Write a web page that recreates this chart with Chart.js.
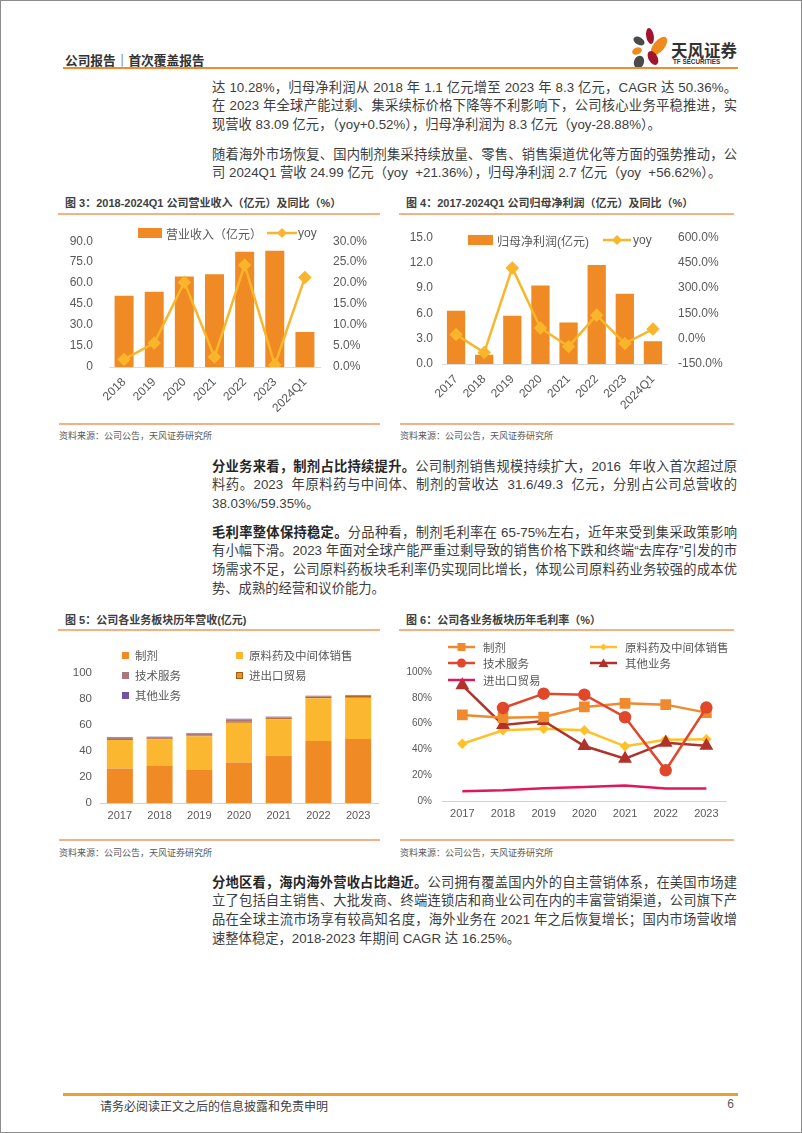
<!DOCTYPE html>
<html lang="zh-CN">
<head>
<meta charset="utf-8">
<title>公司报告 | 首次覆盖报告</title>
<script src="https://cdn.jsdelivr.net/npm/chart.js@4.4.1/dist/chart.umd.min.js"></script>
<style>
  body { margin:0; width:802px; height:1133px; position:relative; background:#fff; overflow:hidden;
         font-family:"Liberation Sans","Noto Sans CJK SC",sans-serif; color:#3a3a3a; }
  .frame { position:absolute; left:0; top:0; width:800px; height:1131px; border:1px solid #8c8c8c; }
  .abs { position:absolute; white-space:nowrap; }
  .hline { position:absolute; height:2px; }
  .para { position:absolute; left:212px; width:525px; font-size:13.3px; line-height:18.7px; color:#3d3d3d; }
  .para div { text-align:justify; text-align-last:justify; }
  .para div.last { text-align-last:left; }
  .para b { color:#262626; }
  .figt { position:absolute; font-size:11px; font-weight:bold; color:#404040; white-space:nowrap; }
  .src { position:absolute; font-size:9px; color:#595959; white-space:nowrap; }
  .box { position:absolute; }
  .lg { position:absolute; height:14px; display:flex; align-items:center; font-size:11.5px; color:#595959; white-space:nowrap; }
  .lg svg { display:block; }
</style>
</head>
<body>
<div class="frame"></div>

<!-- 页眉 -->
<div class="abs" style="left:65px;top:50px;font-size:12.7px;font-weight:bold;color:#333;">公司报告｜首次覆盖报告</div>
<svg class="abs" style="left:0;top:0" width="802" height="70">
  <ellipse cx="650" cy="36" rx="3.8" ry="8" fill="#A3152E" transform="rotate(-10 650 36)"/>
  <ellipse cx="639" cy="41" rx="6" ry="3.8" fill="#4a4a4a" transform="rotate(30 639 41)"/>
  <ellipse cx="659" cy="46" rx="5.5" ry="11" fill="#F08A1C" transform="rotate(40 659 46)"/>
  <ellipse cx="637" cy="51" rx="5" ry="3.5" fill="#F08A1C" transform="rotate(-20 637 51)"/>
  <ellipse cx="639" cy="62" rx="5" ry="6.5" fill="#4a4a4a" transform="rotate(20 639 62)"/>
  <ellipse cx="653" cy="58" rx="4.5" ry="7.5" fill="#A3152E" transform="rotate(-30 653 58)"/>
</svg>
<div class="abs" style="left:671px;top:38px;font-size:16.5px;font-weight:bold;color:#333;font-family:'Noto Sans CJK SC';">天风证券</div>
<div class="abs" style="left:673px;top:58px;font-size:6.3px;font-weight:bold;color:#333;">TF SECURITIES</div>
<div class="hline" style="left:63px;top:67px;width:675px;background:#F08C2A;"></div>

<!-- 正文 -->
<div class="para" style="top:78.7px;">
  <div>达 10.28%，归母净利润从 2018 年 1.1 亿元增至 2023 年 8.3 亿元，CAGR 达 50.36%。</div>
  <div>在 2023 年全球产能过剩、集采续标价格下降等不利影响下，公司核心业务平稳推进，实</div>
  <div class="last">现营收 83.09 亿元，（yoy+0.52%），归母净利润为 8.3 亿元（yoy-28.88%）。</div>
</div>
<div class="para" style="top:145.6px;">
  <div>随着海外市场恢复、国内制剂集采持续放量、零售、销售渠道优化等方面的强势推动，公</div>
  <div class="last">司 2024Q1 营收 24.99 亿元（yoy&nbsp; +21.36%），归母净利润 2.7 亿元（yoy&nbsp; +56.62%）。</div>
</div>

<!-- 图3 / 图4 -->
<div class="figt" style="left:65px;top:194px;">图 3：2018-2024Q1 公司营业收入（亿元）及同比（%）</div>
<div class="figt" style="left:406px;top:194px;">图 4：2017-2024Q1 公司归母净利润（亿元）及同比（%）</div>
<div class="hline" style="left:58px;top:213px;width:322px;background:#F4B183;"></div>
<div class="hline" style="left:399px;top:213px;width:335px;background:#F4B183;"></div>

<div class="box" style="left:60px;top:218px;"><canvas id="c1" width="320" height="200"></canvas></div>
<div class="box" style="left:395px;top:219px;"><canvas id="c2" width="340" height="200"></canvas></div>

<div class="lg" style="left:138px;top:226px;"><svg width="24" height="10"><rect width="24" height="10" fill="#F08A24"/></svg><span style="margin-left:4px;font-size:12px;">营业收入（亿元）</span></div>
<div class="lg" style="left:267px;top:226px;"><svg width="30" height="10"><line x1="0" y1="5" x2="30" y2="5" stroke="#F9B52B" stroke-width="2.5"/><rect x="11.5" y="1.5" width="7" height="7" fill="#F9B52B" transform="rotate(45 15 5)"/></svg><span style="margin-left:1px;font-size:12px;">yoy</span></div>

<div class="lg" style="left:468px;top:233px;"><svg width="25" height="10"><rect width="25" height="10" fill="#F08A24"/></svg><span style="margin-left:4px;font-size:12px;">归母净利润(亿元)</span></div>
<div class="lg" style="left:603px;top:233px;"><svg width="28" height="10"><line x1="0" y1="5" x2="28" y2="5" stroke="#F9B52B" stroke-width="2.5"/><rect x="10.5" y="1.5" width="7" height="7" fill="#F9B52B" transform="rotate(45 14 5)"/></svg><span style="margin-left:2px;font-size:12px;">yoy</span></div>

<div class="hline" style="left:59px;top:423px;width:321px;background:#F4B183;"></div>
<div class="hline" style="left:400px;top:423px;width:334px;background:#F4B183;"></div>
<div class="src" style="left:59px;top:429px;">资料来源：公司公告，天风证券研究所</div>
<div class="src" style="left:400px;top:429px;">资料来源：公司公告，天风证券研究所</div>

<div class="para" style="top:457.7px;">
  <div><b>分业务来看，制剂占比持续提升。</b>公司制剂销售规模持续扩大，2016&nbsp; 年收入首次超过原</div>
  <div>料药。2023&nbsp; 年原料药与中间体、制剂的营收达&nbsp; 31.6/49.3&nbsp; 亿元，分别占公司总营收的</div>
  <div class="last">38.03%/59.35%。</div>
</div>
<div class="para" style="top:523.7px;">
  <div><b>毛利率整体保持稳定。</b>分品种看，制剂毛利率在 65-75%左右，近年来受到集采政策影响</div>
  <div>有小幅下滑。2023 年面对全球产能严重过剩导致的销售价格下跌和终端“去库存”引发的市</div>
  <div>场需求不足，公司原料药板块毛利率仍实现同比增长，体现公司原料药业务较强的成本优</div>
  <div class="last">势、成熟的经营和议价能力。</div>
</div>

<!-- 图5 / 图6 -->
<div class="figt" style="left:65px;top:611px;">图 5：公司各业务板块历年营收(亿元)</div>
<div class="figt" style="left:406px;top:611px;">图 6：公司各业务板块历年毛利率（%）</div>
<div class="hline" style="left:58px;top:629px;width:322px;background:#F4B183;"></div>
<div class="hline" style="left:399px;top:629px;width:335px;background:#F4B183;"></div>

<div class="box" style="left:60px;top:640px;"><canvas id="c3" width="325" height="190"></canvas></div>
<div class="box" style="left:395px;top:640px;"><canvas id="c4" width="340" height="190"></canvas></div>

<div class="lg" style="left:122px;top:648px;"><svg width="7" height="7"><rect width="7" height="7" fill="#F08A24"/></svg><span style="margin-left:6px;">制剂</span></div>
<div class="lg" style="left:236px;top:648px;"><svg width="7" height="7"><rect width="7" height="7" fill="#FBB730"/></svg><span style="margin-left:6px;">原料药及中间体销售</span></div>
<div class="lg" style="left:122px;top:668px;"><svg width="7" height="7"><rect width="7" height="7" fill="#A9787A"/></svg><span style="margin-left:6px;">技术服务</span></div>
<div class="lg" style="left:236px;top:668px;"><svg width="7" height="7"><rect x="0.5" y="0.5" width="6" height="6" fill="#E8961E" stroke="#A85A14"/></svg><span style="margin-left:6px;">进出口贸易</span></div>
<div class="lg" style="left:122px;top:688px;"><svg width="7" height="7"><rect width="7" height="7" fill="#7452A3"/></svg><span style="margin-left:6px;">其他业务</span></div>

<div class="lg" style="left:448px;top:640px;"><svg width="27" height="10"><line x1="0" y1="5" x2="27" y2="5" stroke="#F08A2E" stroke-width="2.5"/><rect x="9.5" y="1" width="8" height="8" fill="#F08A2E"/></svg><span style="margin-left:8px;">制剂</span></div>
<div class="lg" style="left:590px;top:640px;"><svg width="27" height="10"><line x1="0" y1="5" x2="27" y2="5" stroke="#FFC12B" stroke-width="2.5"/><rect x="11" y="2.5" width="5" height="5" fill="#FFC12B" transform="rotate(45 13.5 5)"/></svg><span style="margin-left:8px;">原料药及中间体销售</span></div>
<div class="lg" style="left:448px;top:656px;"><svg width="27" height="10"><line x1="0" y1="5" x2="27" y2="5" stroke="#E0472B" stroke-width="2.5"/><circle cx="13.5" cy="5" r="4.5" fill="#E0472B"/></svg><span style="margin-left:8px;">技术服务</span></div>
<div class="lg" style="left:590px;top:656px;"><svg width="27" height="10"><line x1="0" y1="5" x2="27" y2="5" stroke="#B0322A" stroke-width="2.5"/><polygon points="13.5,0.5 18.5,9 8.5,9" fill="#B0322A"/></svg><span style="margin-left:8px;">其他业务</span></div>
<div class="lg" style="left:448px;top:673px;"><svg width="27" height="10"><line x1="0" y1="5" x2="27" y2="5" stroke="#E0185B" stroke-width="2.5"/></svg><span style="margin-left:8px;">进出口贸易</span></div>

<div class="hline" style="left:59px;top:839px;width:321px;background:#F4B183;"></div>
<div class="hline" style="left:400px;top:839px;width:334px;background:#F4B183;"></div>
<div class="src" style="left:59px;top:846px;">资料来源：公司公告，天风证券研究所</div>
<div class="src" style="left:400px;top:846px;">资料来源：公司公告，天风证券研究所</div>

<div class="para" style="top:873.7px;">
  <div><b>分地区看，海内海外营收占比趋近。</b>公司拥有覆盖国内外的自主营销体系，在美国市场建</div>
  <div>立了包括自主销售、大批发商、终端连锁店和商业公司在内的丰富营销渠道，公司旗下产</div>
  <div>品在全球主流市场享有较高知名度，海外业务在 2021 年之后恢复增长；国内市场营收增</div>
  <div class="last">速整体稳定，2018-2023 年期间 CAGR 达 16.25%。</div>
</div>

<!-- 页脚 -->
<div class="hline" style="left:63px;top:1093px;width:675px;height:2.5px;background:#E9A02E;"></div>
<div class="abs" style="left:100px;top:1097px;font-size:12px;color:#404040;">请务必阅读正文之后的信息披露和免责申明</div>
<div class="abs" style="left:722px;top:1097px;width:12px;text-align:right;font-size:12px;color:#595959;">6</div>

<script>
// 图3：营业收入及同比
const years3 = ['2018', '2019', '2020', '2021', '2022', '2023', '2024Q1'];
const revenue = [51.0, 53.9, 64.8, 66.4, 82.5, 83.1, 25.0];
const revenueYoy = [1.8, 5.7, 20.2, 2.4, 24.3, 0.52, 21.36];

// 图4：归母净利润及同比
const years4 = ['2017', '2018', '2019', '2020', '2021', '2022', '2023', '2024Q1'];
const netProfit = [6.3, 1.1, 5.7, 9.3, 4.9, 11.7, 8.3, 2.7];
const netProfitYoy = [24, -82.5, 418, 63, -47, 139, -28.88, 56.62];

// 图5：各业务板块营收
const years5 = ['2017', '2018', '2019', '2020', '2021', '2022', '2023'];
const segPrep = [26.5, 28.8, 25.8, 31.2, 36.4, 47.6, 49.3];
const segApi = [22.0, 20.2, 25.5, 30.5, 27.9, 33.0, 31.6];
const segTrade = [0.8, 0.8, 0.7, 1.1, 1.0, 1.2, 1.4];
const segTech = [1.0, 0.8, 1.5, 1.5, 0.6, 0.3, 0.3];
const segOther = [0.5, 0.4, 0.4, 0.5, 0.5, 0.4, 0.5];

// 图6：各业务板块毛利率
const years6 = ['2017', '2018', '2019', '2020', '2021', '2022', '2023'];
const gmPrep = [66.7, 64.6, 65.1, 72.9, 75.7, 74.7, 68.5];
const gmApi = [44.4, 54.8, 56.1, 54.8, 42.4, 47.5, 47.8];
const gmTech = [null, 72.1, 83.2, 82.4, 64.9, 23.8, 72.4];
const gmOther = [89.7, 58.9, 62.0, 42.6, 32.8, 45.2, 42.9];
const gmTrade = [7.5, 8.3, 9.8, 10.9, 12.1, 9.6, 9.6];

Chart.defaults.font.family = '"Liberation Sans", "Noto Sans CJK SC", sans-serif';
Chart.defaults.color = '#595959';
Chart.defaults.animation = false;
Chart.defaults.responsive = false;
Chart.defaults.plugins.legend.display = false;
Chart.defaults.plugins.tooltip.enabled = false;

const noLine = { display: false };
const baseGrid = { color: 'transparent', drawTicks: false };
const noGrid = { display: false, drawTicks: false };

// 图3
new Chart(document.getElementById('c1'), {
    data: {
        labels: years3,
        datasets: [
            { type: 'bar', data: revenue, backgroundColor: '#F08A24', yAxisID: 'y', order: 2,
              categoryPercentage: 1, barPercentage: 0.63 },
            { type: 'line', data: revenueYoy, borderColor: '#F9B52B', backgroundColor: '#F9B52B',
              borderWidth: 2.5, pointStyle: 'rectRot', pointRadius: 5, yAxisID: 'y1', order: 1 }
        ]
    },
    options: {
        layout: { padding: { top: 10 } },
        scales: {
            x: { grid: baseGrid, border: { color: '#D6DCE4' },
                 ticks: { font: { size: 12 }, minRotation: 45, maxRotation: 45, padding: 8 },
                 afterFit: s => { s.height = 51; } },
            y: { min: 0, max: 90, grid: noGrid, border: noLine,
                 ticks: { stepSize: 15, padding: 16, font: { size: 12 }, callback: v => v === 0 ? '0' : v.toFixed(1) },
                 afterFit: s => { s.width = 49; } },
            y1: { position: 'right', min: 0, max: 30, grid: noGrid, border: noLine,
                  ticks: { stepSize: 5, padding: 13, font: { size: 12 }, callback: v => v.toFixed(1) + '%' },
                  afterFit: s => { s.width = 60; } }
        }
    }
});

// 图4
new Chart(document.getElementById('c2'), {
    data: {
        labels: years4,
        datasets: [
            { type: 'bar', data: netProfit, backgroundColor: '#F08A24', yAxisID: 'y', order: 2,
              categoryPercentage: 1, barPercentage: 0.65 },
            { type: 'line', data: netProfitYoy, borderColor: '#F9B52B', backgroundColor: '#F9B52B',
              borderWidth: 2.5, pointStyle: 'rectRot', pointRadius: 5, yAxisID: 'y1', order: 1 }
        ]
    },
    options: {
        layout: { padding: { top: 10 } },
        scales: {
            x: { grid: baseGrid, border: { color: '#D6DCE4' },
                 ticks: { font: { size: 12 }, minRotation: 45, maxRotation: 45, padding: 8 },
                 afterFit: s => { s.height = 55; } },
            y: { min: 0, max: 15, grid: noGrid, border: noLine,
                 ticks: { stepSize: 3, padding: 9, font: { size: 12 }, callback: v => v.toFixed(1) },
                 afterFit: s => { s.width = 47; } },
            y1: { position: 'right', min: -150, max: 600, grid: noGrid, border: noLine,
                  ticks: { stepSize: 150, padding: 11, font: { size: 12 }, callback: v => v.toFixed(1) + '%' },
                  afterFit: s => { s.width = 68; } }
        }
    }
});

// 图5
new Chart(document.getElementById('c3'), {
    type: 'bar',
    data: {
        labels: years5,
        datasets: [
            { label: '制剂', data: segPrep, backgroundColor: '#F08A24' },
            { label: '原料药及中间体销售', data: segApi, backgroundColor: '#FBB730' },
            { label: '进出口贸易', data: segTrade, backgroundColor: '#B8641E' },
            { label: '技术服务', data: segTech, backgroundColor: '#A9787A' },
            { label: '其他业务', data: segOther, backgroundColor: '#7452A3' }
        ]
    },
    options: {
        datasets: { bar: { categoryPercentage: 1, barPercentage: 0.655 } },
        layout: { padding: { top: 33, right: 7 } },
        scales: {
            x: { stacked: true, grid: baseGrid, border: { color: '#D0D0D0' },
                 ticks: { font: { size: 11 }, padding: 6, maxRotation: 0 },
                 afterFit: s => { s.height = 27; } },
            y: { stacked: true, min: 0, max: 100, grid: noGrid, border: noLine,
                 ticks: { stepSize: 20, padding: 8, font: { size: 11.5 } },
                 afterFit: s => { s.width = 40; } }
        }
    }
});

// 图6
new Chart(document.getElementById('c4'), {
    type: 'line',
    data: {
        labels: years6,
        datasets: [
            { label: '技术服务', data: gmTech, borderColor: '#E0472B', backgroundColor: '#E0472B',
              pointStyle: 'circle', pointRadius: 5 },
            { label: '制剂', data: gmPrep, borderColor: '#F08A2E', backgroundColor: '#F08A2E',
              pointStyle: 'rect', pointRadius: 5.8 },
            { label: '其他业务', data: gmOther, borderColor: '#B0322A', backgroundColor: '#B0322A',
              pointStyle: 'triangle', pointRadius: 5.5 },
            { label: '原料药及中间体销售', data: gmApi, borderColor: '#FFC12B', backgroundColor: '#FFC12B',
              pointStyle: 'rectRot', pointRadius: 3.5 },
            { label: '进出口贸易', data: gmTrade, borderColor: '#E0185B', backgroundColor: '#E0185B',
              pointRadius: 0 }
        ]
    },
    options: {
        datasets: { line: { borderWidth: 2.5, spanGaps: false } },
        layout: { padding: { top: 32, right: 7 } },
        scales: {
            x: { offset: true, grid: Object.assign({ offset: true }, baseGrid), border: { color: '#D0D0D0' },
                 ticks: { font: { size: 11 }, padding: 6, maxRotation: 0 },
                 afterFit: s => { s.height = 29; } },
            y: { min: 0, max: 100, grid: noGrid, border: noLine,
                 ticks: { stepSize: 20, padding: 10, font: { size: 10 }, callback: v => v + '%' },
                 afterFit: s => { s.width = 47; } }
        }
    }
});
</script>
</body>
</html>
